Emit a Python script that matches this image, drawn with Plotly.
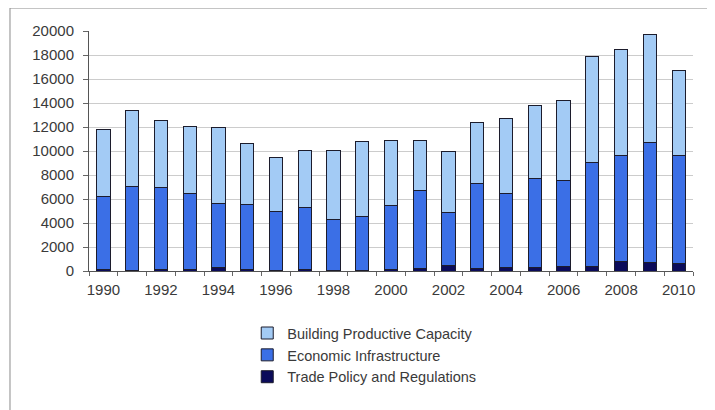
import plotly.graph_objects as go

years = list(range(1990, 2011))
trade_policy = [100, 80, 120, 120, 280, 100, 80, 100, 60, 60, 120, 190, 470, 190, 280, 300, 390, 390, 800, 750, 610]
economic_infra = [6070, 7000, 6800, 6300, 5360, 5430, 4840, 5230, 4250, 4470, 5300, 6480, 4390, 7140, 6140, 7390, 7190, 8690, 8840, 9970, 9030]
building_capacity = [5610, 6310, 5610, 5660, 6300, 5080, 4550, 4750, 5770, 6300, 5470, 4190, 5080, 5060, 6270, 6120, 6640, 8810, 8800, 8970, 7110]
x_tick_labels = [str(y) for y in range(1990, 2011, 2)]
y_tick_values = list(range(0, 20001, 2000))
y_tick_labels = [str(v) for v in y_tick_values]

outline = dict(color="#1c1c2c", width=1)
fig = go.Figure()
fig.add_trace(go.Bar(x=years, y=trade_policy, name="Trade Policy and Regulations",
                     marker=dict(color="#0b0b5a", line=outline)))
fig.add_trace(go.Bar(x=years, y=economic_infra, name="Economic Infrastructure",
                     marker=dict(color="#3b6fe6", line=outline)))
fig.add_trace(go.Bar(x=years, y=building_capacity, name="Building Productive Capacity",
                     marker=dict(color="#a3cbf5", line=outline)))

# page body has an 8px margin, so the figure is sized/placed to compensate
fig.update_layout(
    barmode="stack",
    bargap=0.54,
    width=707, height=402,
    margin=dict(l=81, r=22, t=23, b=139),
    paper_bgcolor="white", plot_bgcolor="white",
    font=dict(family="Liberation Sans, Arial, sans-serif", size=15, color="#3a3a3a"),
    showlegend=True,
    legend=dict(x=0.262, y=-0.192, xanchor="left", yanchor="top",
                traceorder="reversed", font=dict(size=14.5, color="#3a3a3a"),
                itemwidth=30, tracegroupgap=0, bgcolor="rgba(0,0,0,0)"),
)
fig.update_xaxes(
    range=[1989.5, 2010.5],
    tickmode="array", tickvals=[int(t) for t in x_tick_labels], ticktext=x_tick_labels,
    ticks="", showgrid=False, zeroline=False,
    showline=True, linecolor="#555555", linewidth=1,
    minor=dict(tickvals=[y + 0.5 for y in range(1989, 2011)], ticks="outside",
               ticklen=4, tickcolor="#666666", showgrid=False),
    ticklabelstandoff=5,
)
fig.update_yaxes(
    range=[0, 20000],
    tickmode="array", tickvals=y_tick_values, ticktext=y_tick_labels,
    ticks="outside", ticklen=5, tickcolor="#666666",
    showgrid=True, gridcolor="#cccccc", gridwidth=1,
    zeroline=False, showline=True, linecolor="#555555", linewidth=1,
    ticklabelstandoff=6,
)
# outer frame lines (top and left) of the picture
fig.add_shape(type="line", xref="paper", yref="paper", x0=-0.1308, x1=1.05, y0=1.0958, y1=1.0958,
              line=dict(color="#8a8a8a", width=1))
fig.add_shape(type="line", xref="paper", yref="paper", x0=-0.1308, x1=-0.1308, y0=1.0958, y1=-0.6,
              line=dict(color="#8a8a8a", width=1))

fig.write_html("out.html")
